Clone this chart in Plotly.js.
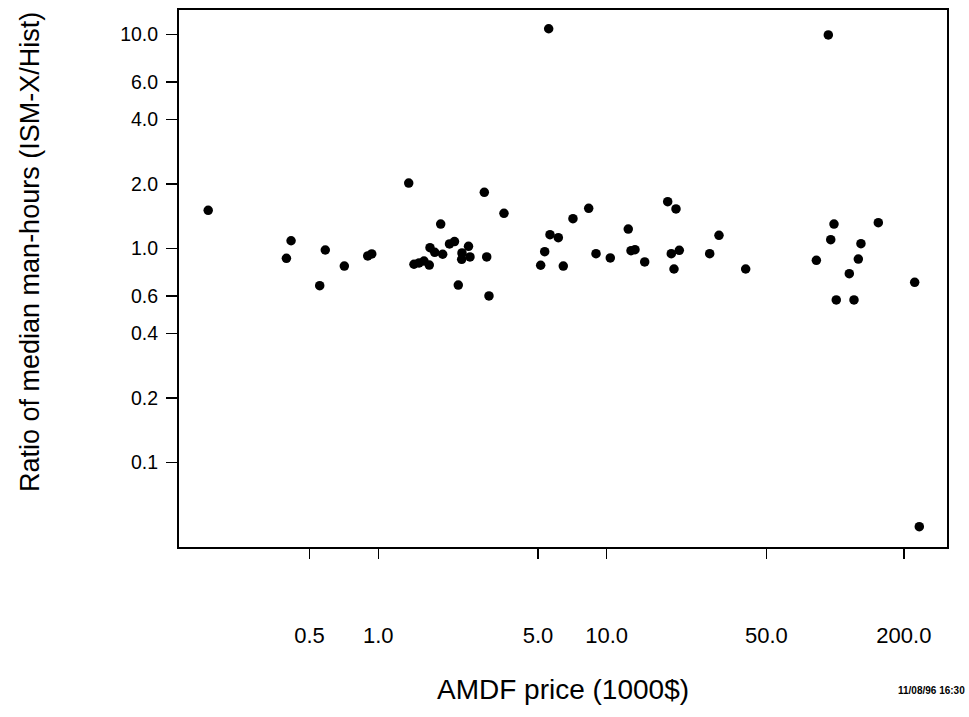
<!DOCTYPE html>
<html>
<head>
<meta charset="utf-8">
<script src="https://cdn.plot.ly/plotly-3.0.1.min.js"></script>
<style>html,body{margin:0;padding:0;background:#fff;}#chart{width:969px;height:717px;}</style>
</head>
<body>
<div id="chart"></div>
<script>
// AMDF price (1000$)
const amdfPrice = [
  0.180, 0.415, 0.396, 0.586, 0.554, 0.710, 0.899, 0.936,
  1.359, 2.912, 3.550, 7.118, 1.876, 5.646, 6.140, 5.353, 5.140, 6.456,
  1.433, 1.508, 1.585, 1.672, 1.684, 1.766, 1.914, 2.050, 2.156, 2.483,
  2.325, 2.318, 2.520, 2.983, 2.240, 3.052,
  8.341, 18.50, 20.11, 12.43, 31.02, 8.979, 10.37, 12.78, 13.30, 14.67,
  19.18, 20.79, 19.71, 28.25, 40.60,
  98.9, 154.6, 95.7, 129.8, 82.8, 126.4, 115.4, 223.1, 101.2, 121.0,
  5.572, 93.4, 233.7
];
// Ratio of median man-hours (ISM-X/Hist)
const manHourRatio = [
  1.508, 1.087, 0.900, 0.984, 0.670, 0.828, 0.923, 0.943,
  2.023, 1.830, 1.460, 1.378, 1.301, 1.160, 1.123, 0.966, 0.835, 0.828,
  0.844, 0.856, 0.874, 0.837, 1.009, 0.960, 0.940, 1.050, 1.078, 1.024,
  0.953, 0.890, 0.913, 0.913, 0.675, 0.600,
  1.541, 1.654, 1.530, 1.233, 1.152, 0.946, 0.903, 0.977, 0.987, 0.865,
  0.946, 0.981, 0.802, 0.946, 0.802,
  1.301, 1.320, 1.099, 1.053, 0.881, 0.893, 0.763, 0.695, 0.575, 0.575,
  10.64, 9.95, 0.0501
];
const xTickVals = [0.5, 1, 5, 10, 50, 200];
const xTickText = ["0.5", "1.0", "5.0", "10.0", "50.0", "200.0"];
const yTickVals = [0.1, 0.2, 0.4, 0.6, 1, 2, 4, 6, 10];
const yTickText = ["0.1", "0.2", "0.4", "0.6", "1.0", "2.0", "4.0", "6.0", "10.0"];

const font = "Liberation Sans, Arial, Helvetica, sans-serif";

const trace = {
  type: "scatter",
  mode: "markers",
  x: amdfPrice,
  y: manHourRatio,
  marker: {color: "#000", size: 9.5},
  hoverinfo: "x+y"
};

const layout = {
  width: 969,
  height: 717,
  margin: {l: 179, r: 22, t: 10, b: 170},
  paper_bgcolor: "#fff",
  plot_bgcolor: "#fff",
  showlegend: false,
  font: {family: font, color: "#000"},
  xaxis: {
    type: "log",
    range: [-0.8726, 2.490],
    tickmode: "array",
    tickvals: xTickVals,
    ticktext: xTickText,
    ticks: "outside",
    ticklen: 10,
    tickwidth: 1.5,
    tickcolor: "#000",
    ticklabelstandoff: 58,
    tickfont: {family: font, size: 22, color: "#000"},
    showgrid: false,
    zeroline: false,
    showline: true,
    linecolor: "#000",
    linewidth: 2,
    mirror: true,
    automargin: false,
    title: {text: "AMDF price (1000$)", font: {family: font, size: 28, color: "#000"}, standoff: 32}
  },
  yaxis: {
    type: "log",
    range: [-1.3949, 1.1145],
    tickmode: "array",
    tickvals: yTickVals,
    ticktext: yTickText,
    ticks: "outside",
    ticklen: 11,
    tickwidth: 1.5,
    tickcolor: "#000",
    ticklabelstandoff: 4,
    tickfont: {family: font, size: 19.5, color: "#000"},
    showgrid: false,
    zeroline: false,
    showline: true,
    linecolor: "#000",
    linewidth: 2,
    mirror: true,
    automargin: false
  },
  annotations: [{
    text: "Ratio of median man-hours (ISM-X/Hist)",
    xref: "paper", yref: "paper",
    x: (30 - 179) / 768, y: (547 - 252) / 537,
    xanchor: "center", yanchor: "middle",
    textangle: -90,
    showarrow: false,
    font: {family: font, size: 27, color: "#000"}
  }, {
    text: "11/08/96 16:30",
    xref: "paper", yref: "paper",
    x: (967 - 179) / 768, y: (547 - 690) / 537,
    xanchor: "right", yanchor: "middle",
    showarrow: false,
    font: {family: "Liberation Sans Narrow, Liberation Sans, Arial, sans-serif", size: 10, color: "#000", weight: "bold"}
  }]
};

Plotly.newPlot("chart", [trace], layout, {displayModeBar: false, staticPlot: true});
</script>
</body>
</html>
